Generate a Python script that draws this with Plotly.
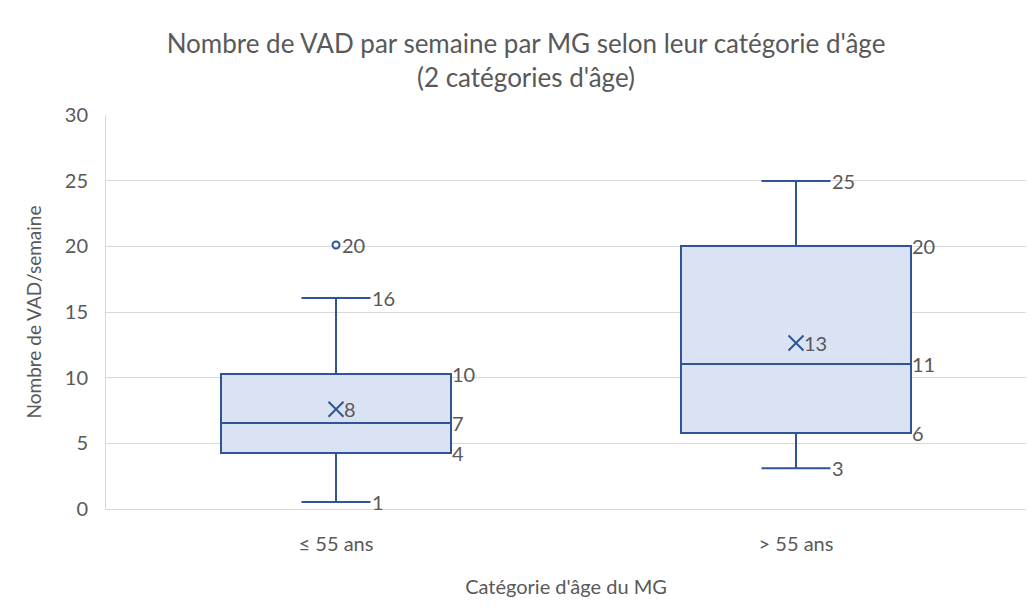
import plotly.graph_objects as go

categories = ["≤ 55 ans", "> 55 ans"]
lower_whisker = [0.53, 3.1]
q1_values = [4.26, 5.79]
median_values = [6.55, 11.04]
q3_values = [10.28, 20.03]
upper_whisker = [16.07, 24.98]
mean_values = [7.6, 12.64]
outlier_cats = ["≤ 55 ans"]
outlier_values = [20.1]

BLUE = "#2F5597"
FILL = "#DAE3F3"
TXT = "#595959"
GRID = "#D9D9D9"
FONT = "Lato, 'Open Sans', sans-serif"

fig = go.Figure()
fig.add_trace(go.Box(
    x=categories, q1=q1_values, median=median_values, q3=q3_values,
    lowerfence=lower_whisker, upperfence=upper_whisker,
    fillcolor=FILL, line=dict(color=BLUE, width=2), whiskerwidth=0.3,
    boxpoints=False, showlegend=False, hoverinfo="skip",
))
fig.add_trace(go.Scatter(
    x=categories, y=mean_values, mode="markers",
    marker=dict(symbol="x-thin-open", size=15, color=BLUE, line=dict(color=BLUE, width=2)),
    showlegend=False, hoverinfo="skip",
))
fig.add_trace(go.Scatter(
    x=outlier_cats, y=outlier_values, mode="markers",
    marker=dict(symbol="circle-open", size=7, color=BLUE, line=dict(color=BLUE, width=2)),
    showlegend=False, hoverinfo="skip",
))

ann = []
def lab(x, y, shift):
    ann.append(dict(x=x, y=y, xref="x", yref="y", text=f"{y:.0f}", showarrow=False,
                    xanchor="left", yanchor="middle", xshift=shift,
                    font=dict(size=20, color=TXT, family=FONT)))

for i, c in enumerate(categories):
    lab(c, lower_whisker[i], 34)
    lab(c, upper_whisker[i], 34)
    lab(c, q1_values[i], 114)
    lab(c, median_values[i], 114)
    lab(c, q3_values[i], 114)
    lab(c, mean_values[i], 6)
for c, v in zip(outlier_cats, outlier_values):
    lab(c, v, 4)

fig.update_layout(
    width=1026, height=600,
    paper_bgcolor="white", plot_bgcolor="white",
    margin=dict(l=98, r=8, t=107, b=99),
    boxgap=0.5, boxgroupgap=0,
    font=dict(family=FONT, color=TXT),
    title=dict(text="Nombre de VAD par semaine par MG selon leur catégorie d'âge<br>(2 catégories d'âge)",
               x=518/1026, xref="container", xanchor="center", y=1 - 45/600, yanchor="middle",
               font=dict(size=26, color=TXT, family=FONT)),
    annotations=ann,
)
fig.update_yaxes(range=[0, 30], dtick=5, showgrid=True, gridcolor=GRID, gridwidth=1,
                 showline=True, linecolor=GRID, zeroline=False, automargin=False,
                 tickfont=dict(size=20, color=TXT), ticklabelstandoff=13,
                 title=dict(text="Nombre de VAD/semaine", font=dict(size=19, color=TXT), standoff=18))
fig.update_xaxes(showline=True, linecolor=GRID, showgrid=False, automargin=False,
                 tickfont=dict(size=20, color=TXT), ticklabelstandoff=17,
                 title=dict(text="Catégorie d'âge du MG", font=dict(size=20, color=TXT), standoff=25))

fig.write_html("out.html")
